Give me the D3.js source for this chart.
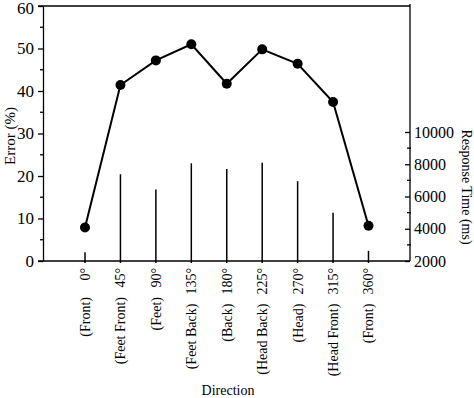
<!DOCTYPE html>
<html>
<head>
<meta charset="utf-8">
<script src="https://cdn.jsdelivr.net/npm/d3@7"></script>
<style>
  body { margin: 0; background: #fff; }
  svg { display: block; font-family: "Liberation Serif", "Times New Roman", serif; }
  .axis path, .axis line { stroke: #000; stroke-width: 1.3; }
</style>
</head>
<body>
<svg id="chart" width="474" height="398"></svg>
<script>
// directions (degrees) and their names
var degrees = [0, 45, 90, 135, 180, 225, 270, 315, 360];
var names = ["(Front)", "(Feet Front)", "(Feet)", "(Feet Back)", "(Back)",
             "(Head Back)", "(Head)", "(Head Front)", "(Front)"];
// error rate (%) - line with dots
var errorPct = [7.9, 41.4, 47.2, 51.0, 41.7, 49.8, 46.4, 37.4, 8.3];
// response time (ms) - vertical lines
var responseMs = [2550, 7380, 6440, 8060, 7710, 8100, 6950, 4990, 2630];
// tick labels
var errorTicks = [0, 10, 20, 30, 40, 50, 60];
var timeTicks = [2000, 4000, 6000, 8000, 10000];

var serif = '"Liberation Serif", "Times New Roman", serif';
var svg = d3.select("#chart");

var x = d3.scaleLinear().domain([0, 360]).range([85, 368.5]);
var yL = d3.scaleLinear().domain([0, 60]).range([261, 6]);
var yR = d3.scaleLinear().domain([2000, 10000]).range([261, 132]);

var left = 43, right = 410;

// frame: top and bottom lines
svg.append("line").attr("x1", left - 5).attr("x2", right)
    .attr("y1", yL(60)).attr("y2", yL(60))
    .attr("stroke", "#000").attr("stroke-width", 1.5);
svg.append("line").attr("x1", left - 5).attr("x2", right)
    .attr("y1", yL(0)).attr("y2", yL(0))
    .attr("stroke", "#000").attr("stroke-width", 1.5);

// left axis
var gl = svg.append("g").attr("class", "axis")
    .attr("transform", "translate(" + left + ",0)")
    .call(d3.axisLeft(yL).tickValues(errorTicks).tickSize(5).tickSizeOuter(0).tickPadding(4));
gl.selectAll("text")
    .style("font-family", serif).style("font-size", "17px").attr("fill", "#000")
    .attr("dy", function(d) { return d == 60 ? "0.42em" : "0.32em"; });
gl.selectAll(".minor").data(d3.range(5, 60, 10)).enter()
    .append("line").attr("class", "minor")
    .attr("x1", -3).attr("x2", 0)
    .attr("y1", function(d) { return yL(d); })
    .attr("y2", function(d) { return yL(d); });

// right axis (ticks point inward, labels outside)
var gr = svg.append("g").attr("class", "axis")
    .attr("transform", "translate(" + right + ",0)")
    .call(d3.axisRight(yR).tickValues(timeTicks).tickFormat(d3.format("d"))
        .tickSize(-5).tickSizeOuter(0).tickPadding(4));
gr.select(".domain").attr("d", "M0," + (yL(60) - 2) + "V" + yL(0));
gr.selectAll("text")
    .style("font-family", serif).style("font-size", "16px").attr("fill", "#000");
gr.selectAll(".minor").data(d3.range(3000, 10000, 2000)).enter()
    .append("line").attr("class", "minor")
    .attr("x1", -3).attr("x2", 1)
    .attr("y1", function(d) { return yR(d); })
    .attr("y2", function(d) { return yR(d); });

// response time lines
svg.selectAll(".rt").data(responseMs).enter()
    .append("line").attr("class", "rt")
    .attr("x1", function(d, i) { return x(degrees[i]); })
    .attr("x2", function(d, i) { return x(degrees[i]); })
    .attr("y1", yR(2000) + 2)
    .attr("y2", function(d) { return yR(d); })
    .attr("stroke", "#000").attr("stroke-width", 1.5);

// error line
var line = d3.line()
    .x(function(d, i) { return x(degrees[i]); })
    .y(function(d) { return yL(d); });
svg.append("path").datum(errorPct)
    .attr("d", line)
    .attr("fill", "none").attr("stroke", "#000").attr("stroke-width", 2);
svg.selectAll(".dot").data(errorPct).enter()
    .append("circle").attr("class", "dot")
    .attr("cx", function(d, i) { return x(degrees[i]); })
    .attr("cy", function(d) { return yL(d); })
    .attr("r", 5).attr("fill", "#000");

// x labels, rotated
var labTop = 268;
degrees.forEach(function(deg, i) {
    var t = svg.append("text")
        .attr("transform", "translate(" + x(deg) + "," + labTop + ") rotate(-90)")
        .attr("text-anchor", "end").attr("dy", "0.35em")
        .style("font-size", "14px")
        .text(deg + "°");
    var len = t.node().getComputedTextLength();
    svg.append("text")
        .attr("transform", "translate(" + x(deg) + "," + (labTop + Math.max(len, 20) + 9) + ") rotate(-90)")
        .attr("text-anchor", "end").attr("dy", "0.35em")
        .style("font-size", "14px")
        .text(names[i]);
});

// axis titles
svg.append("text")
    .attr("transform", "translate(15,136) rotate(-90)")
    .attr("text-anchor", "middle")
    .style("font-size", "15px")
    .text("Error (%)");
svg.append("text")
    .attr("transform", "translate(462,187) rotate(90)")
    .attr("text-anchor", "middle")
    .style("font-size", "14px")
    .text("Response Time (ms)");
svg.append("text")
    .attr("x", 228).attr("y", 395)
    .attr("text-anchor", "middle")
    .style("font-size", "14px")
    .text("Direction");
</script>
</body>
</html>
